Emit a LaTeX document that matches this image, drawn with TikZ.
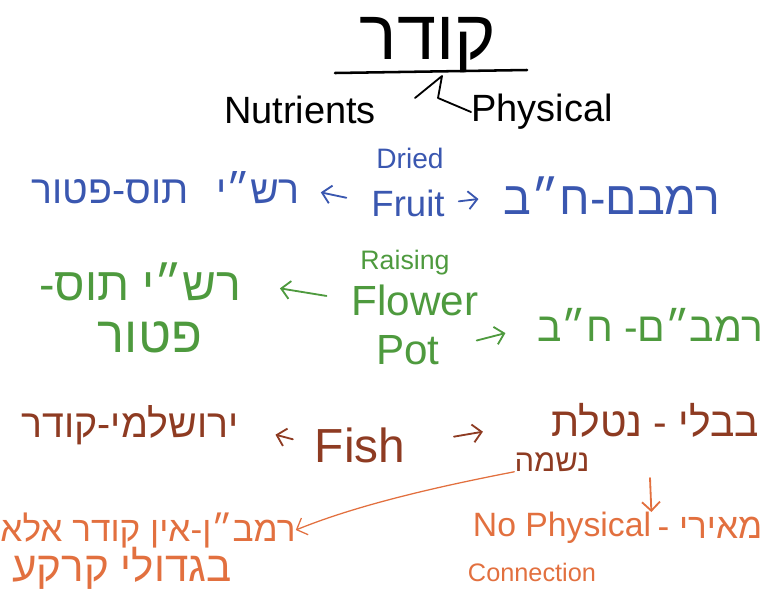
\documentclass[tikz,border=0pt]{standalone}
\usepackage{fontspec}
\setmainfont{Liberation Sans}
\newfontfamily\hebfont[Script=Hebrew]{Liberation Sans}
\TeXXeTstate=1
\usepackage{xcolor}
\usetikzlibrary{arrows.meta}
\newcommand{\hebtext}[1]{{\hebfont\beginR #1\endR}}
\definecolor{inkblue}{HTML}{3A57B0}
\definecolor{inkgreen}{HTML}{4E9A3E}
\definecolor{inkbrown}{HTML}{8E3B22}
\definecolor{inkorange}{HTML}{E2703F}

\begin{document}
\begin{tikzpicture}[x=0.025cm,y=-0.025cm,>={Straight Barb[length=2.2mm,width=4.5mm]},
  ink/.style={line width=1.3pt,line cap=round,line join=round},
  txt/.style={inner sep=0pt,font=\fontsize{#1}{#1}\selectfont}]
  \useasboundingbox (0,0) rectangle (768,588);
  % title
  \node[txt=50] (koder) at (428,45) {\hebtext{קודר}};
  \draw[ink,line width=1.8pt] (335,73) -- (527,70);
  \node[txt=27] (nutr) at (300,110) {Nutrients};
  \node[txt=27] (phys) at (542,112) {Physical};
  \draw[ink] (415,98) -- (442,76) -- (438,98) -- (phys.west);
  % dried fruit
  \node[txt=28,inkblue] (tosA) at (110,192) {\hebtext{תוס-פטור}};
  \node[txt=28,inkblue] (rashiA) at (258,188) {\hebtext{רש״י}};
  \node[txt=20,inkblue] (dried) at (410,158) {Dried};
  \node[txt=26,inkblue] (fruit) at (408,203) {Fruit};
  \node[txt=33,inkblue] (rambamA) at (612,196) {\hebtext{רמבם-ח״ב}};
  \draw[ink,inkblue,->,shorten <=18pt,shorten >=15pt] (fruit.west) -- (rashiA.east);
  \draw[ink,inkblue,->,shorten <=10pt,shorten >=18pt] (fruit.east) -- (rambamA.west);
  % flower pot
  \node[txt=33,inkgreen] (rashiB) at (140,282) {\hebtext{רש״י תוס-}};
  \node[txt=36,inkgreen] (paturB) at (150,337) {\hebtext{פטור}};
  \node[txt=19,inkgreen] (raising) at (405,263) {Raising};
  \node[txt=30,inkgreen] (flower) at (415,300) {Flower};
  \node[txt=30,inkgreen] (pot) at (408,350) {Pot};
  \node[txt=29,inkgreen] (rambamB) at (650,325) {\hebtext{רמב״ם- ח״ב}};
  \draw[ink,inkgreen,->,shorten <=18pt,shorten >=28pt] (flower.west) -- (rashiB.east);
  \draw[ink,inkgreen,->,shorten <=27pt,shorten >=23pt] (pot.east) -- (rambamB.west);
  % fish
  \node[txt=28,inkbrown] (yerush) at (130,425) {\hebtext{ירושלמי-קודר}};
  \node[txt=34,inkbrown] (fish) at (360,445) {Fish};
  \node[txt=29,inkbrown] (bavli) at (655,420) {\hebtext{בבלי - נטלת}};
  \node[txt=22,inkbrown] (neshama) at (552,462) {\hebtext{נשמה}};
  \draw[ink,inkbrown,->,shorten <=16pt,shorten >=27pt] (fish.west) -- (yerush.east);
  \draw[ink,inkbrown,->,shorten <=35pt,shorten >=49pt] (fish.east) -- (bavli.west);
  % no connection
  \node[txt=25,inkorange] (ramban) at (148,530) {\hebtext{רמב״ן-אין קודר אלא}};
  \node[txt=30,inkorange] (gedolei) at (122,568) {\hebtext{בגדולי קרקע}};
  \node[txt=24,inkorange] (nophys) at (562,528) {No Physical};
  \node[txt=18,inkorange] (conn) at (532,572) {Connection};
  \node[txt=25,inkorange] (meiri) at (710,528) {\hebtext{מאירי -}};
  \draw[ink,inkorange,line width=0.9pt,->] (neshama.south west) .. controls (420,490) and (350,508) .. (ramban.east);
  \coordinate (vtop) at (650,478);
  \draw[ink,inkorange,->] (vtop) -- (nophys.north east);
\end{tikzpicture}
\end{document}
